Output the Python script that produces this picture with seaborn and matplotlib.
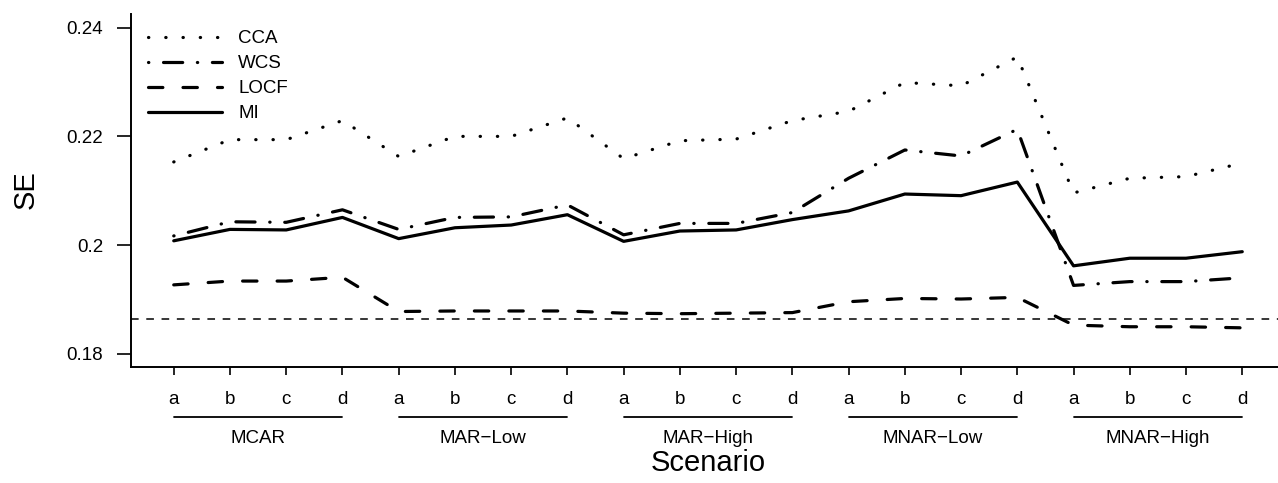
import numpy as np
import pandas as pd
import matplotlib
matplotlib.use("Agg")
import matplotlib.pyplot as plt
import matplotlib.transforms as mtransforms
import seaborn as sns

# ==================================================
# DATA
# ==================================================

groups = ["MCAR", "MAR\u2212Low", "MAR\u2212High", "MNAR\u2212Low", "MNAR\u2212High"]
letters = ["a", "b", "c", "d"]

methods = ["CCA", "WCS", "LOCF", "MI"]

cca = [0.2153, 0.2194, 0.2194, 0.2229, 0.2163, 0.2200, 0.2200, 0.2234,
       0.2159, 0.2192, 0.2195, 0.2229, 0.2246, 0.2299, 0.2293, 0.2346,
       0.2096, 0.2123, 0.2126, 0.2151]
wcs = [0.2017, 0.2043, 0.2042, 0.2065, 0.2029, 0.2051, 0.2052, 0.2074,
       0.2019, 0.2040, 0.2040, 0.2060, 0.2123, 0.2175, 0.2164, 0.2213,
       0.1926, 0.1933, 0.1933, 0.1940]
locf = [0.1927, 0.1934, 0.1934, 0.1941, 0.1878, 0.1879, 0.1879, 0.1879,
        0.1875, 0.1874, 0.1875, 0.1876, 0.1896, 0.1902, 0.1901, 0.1904,
        0.1853, 0.1850, 0.1850, 0.1848]
mi = [0.2008, 0.2029, 0.2028, 0.2051, 0.2012, 0.2032, 0.2037, 0.2056,
      0.2007, 0.2026, 0.2028, 0.2047, 0.2063, 0.2094, 0.2091, 0.2116,
      0.1962, 0.1976, 0.1976, 0.1988]

true_se = 0.1865

y_ticks = [0.18, 0.20, 0.22, 0.24]
y_tick_labels = ["0.18", "0.2", "0.22", "0.24"]

# ==================================================
# LONG DATAFRAME
# ==================================================

n = len(groups) * len(letters)
pos = np.arange(1, n + 1)

df = pd.DataFrame({
    "pos": np.tile(pos, len(methods)),
    "SE": cca + wcs + locf + mi,
    "method": np.repeat(methods, n),
})

# ==================================================
# PLOT
# ==================================================

sns.set_style("ticks")
plt.rcParams["font.family"] = ["Liberation Sans", "DejaVu Sans"]
plt.rcParams["text.color"] = "black"
plt.rcParams["xtick.color"] = "black"
plt.rcParams["ytick.color"] = "black"
plt.rcParams["axes.labelcolor"] = "black"

fs = 13.5

W, H = 1278, 483
fig = plt.figure(figsize=(W / 100, H / 100), dpi=100)

ax_left, ax_right, ax_top, ax_bottom = 131, 1285, 14, 367
ax = fig.add_axes([ax_left / W, 1 - ax_bottom / H,
                   (ax_right - ax_left) / W, (ax_bottom - ax_top) / H])

dashes = {
    "CCA": (0.1, 5.3),
    "WCS": (0.1, 4.6, 6.0, 4.6),
    "LOCF": (4.5, 6.3),
    "MI": "",
}

sns.lineplot(
    data=df, x="pos", y="SE",
    hue="method", style="method",
    hue_order=methods, style_order=methods,
    palette=["black"] * 4,
    dashes=dashes,
    linewidth=2.3,
    legend=False,
    ax=ax,
)

for line in ax.lines:
    line.set_dash_capstyle("round")
    line.set_solid_capstyle("round")
    line.set_dash_joinstyle("round")
    line.set_solid_joinstyle("round")

ax.axhline(true_se, color="black", lw=1.1, linestyle=(0, (5, 5)))

ax.set_xlim(0.24, 20.76)
ax.set_ylim(0.1776, 0.2425)

ax.set_xticks(pos)
ax.set_xticklabels(letters * len(groups), fontsize=fs)
ax.set_yticks(y_ticks)
ax.set_yticklabels(y_tick_labels, fontsize=fs)
ax.tick_params(axis="x", length=6, width=1.2, pad=11, colors="black")
ax.tick_params(axis="y", length=10, width=1.2, pad=10, colors="black")

ax.set_xlabel("")
ax.set_ylabel("")

sns.despine(ax=ax, top=True, right=True)
for s in ["left", "bottom"]:
    ax.spines[s].set_linewidth(1.4)
    ax.spines[s].set_color("black")

# group brackets under the tick labels
trans = mtransforms.blended_transform_factory(ax.transData, ax.transAxes)
line_y = (ax_bottom - 417) / (ax_bottom - ax_top)
text_y = (ax_bottom - 443) / (ax_bottom - ax_top)
for g, name in enumerate(groups):
    x0 = pos[g * 4]
    x1 = pos[g * 4 + 3]
    ax.plot([x0, x1], [line_y, line_y], color="black", lw=1.3,
            transform=trans, clip_on=False)
    ax.text((x0 + x1) / 2, text_y, name, transform=trans,
            ha="center", va="baseline", fontsize=fs)

# axis titles
fig.text(26 / W, 1 - 190 / H, "SE", rotation=90, ha="center", va="center",
         fontsize=21)
fig.text(708 / W, 1 - 471 / H, "Scenario", ha="center", va="baseline",
         fontsize=21)

# legend
handles = ax.lines[:4]
ax.legend(
    handles, methods,
    loc="upper left",
    bbox_to_anchor=(148 / W, 1 - 30 / H),
    bbox_transform=fig.transFigure,
    frameon=False,
    fontsize=fs,
    handlelength=3.95,
    handletextpad=0.85,
    labelspacing=0.42,
    borderpad=0,
    borderaxespad=0,
)

fig.savefig("out.png", dpi=100)
